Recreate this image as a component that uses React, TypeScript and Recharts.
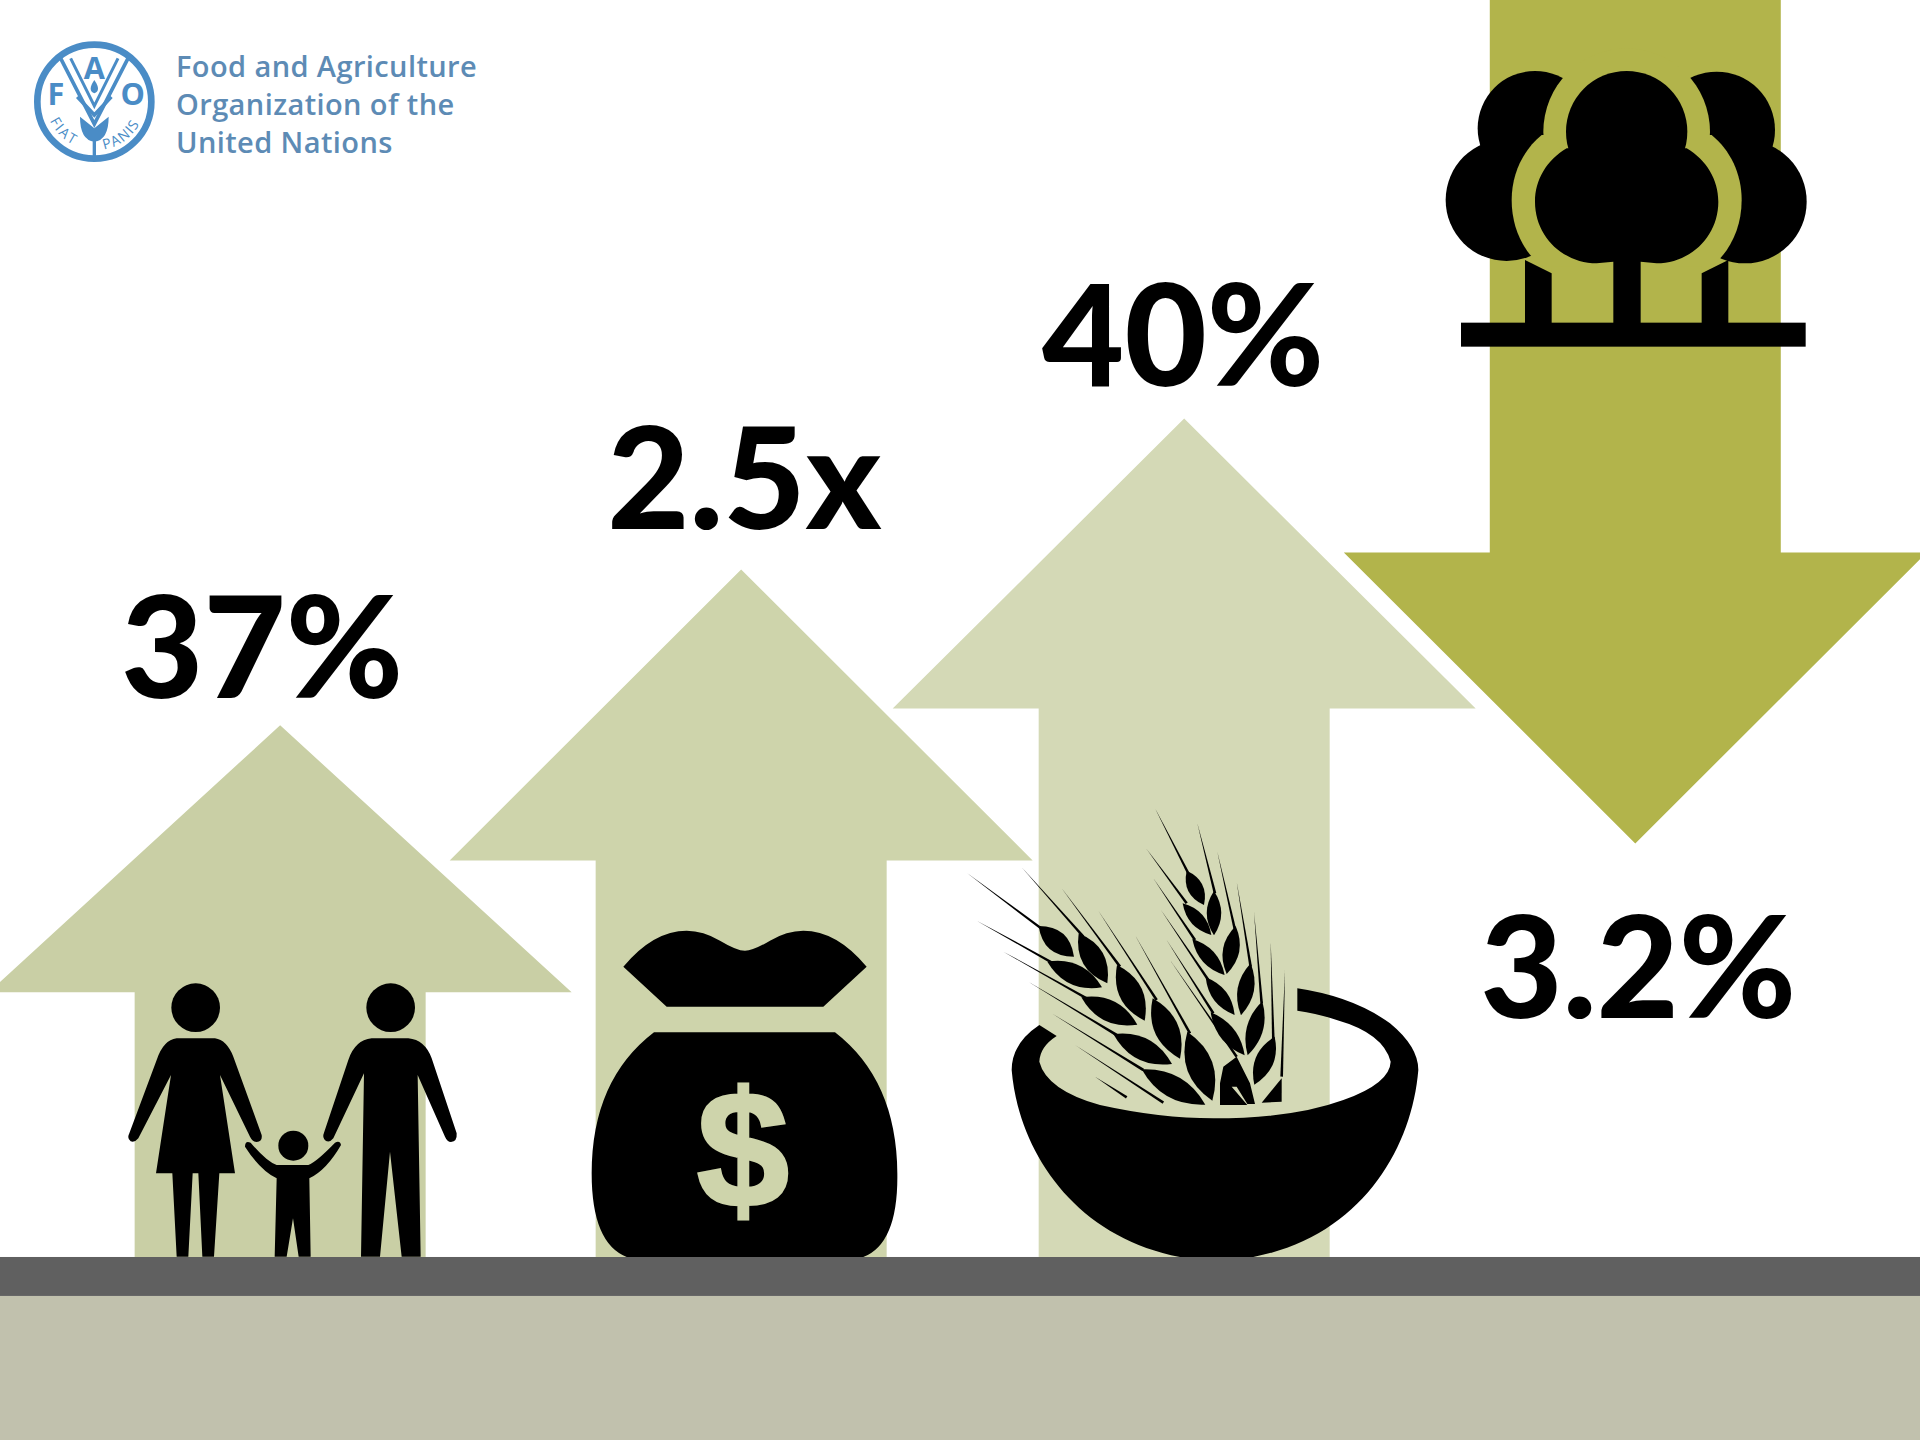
import { BarChart, Bar, XAxis, YAxis, ReferenceArea, LabelList } from 'recharts';

// values, in percent of the height above the ground line
const categories = ['People', 'Income', 'Food', 'Forest'];
const arrowLow = [0, 0, 0, 32.9];
const arrowHigh = [42.3, 54.7, 66.7, 100];
const valueLabels = ['37%', '2.5x', '40%', '3.2%'];

const chartData = categories.map((name, i) => ({
  name,
  range: [arrowLow[i], arrowHigh[i]],
  label: valueLabels[i],
}));

// styling, kept away from the values
const arrowFills = ['#c9cfa5', '#ced4ab', '#d4d9b6', '#b2b44b'];
const headHeights = [267, 291, 290, 291];
const centerNudge = [0, 9.3, 0.6, 0];
const labelDx = [-18, 3, -1, 3];
const labelDy = [-27, -40, -33, 175];
const HEAD_HALF = 291.5;
const LOGO_BLUE = '#4a8cc6';
const LOGO_TEXT = '#5d8bb5';

const awnPath = (x1: number, y1: number, x2: number, y2: number, w = 4) => {
  const len = Math.hypot(x2 - x1, y2 - y1);
  const nx = (-(y2 - y1) / len) * w;
  const ny = ((x2 - x1) / len) * w;
  return `M${x1} ${y1}L${x2 + nx} ${y2 + ny}L${x2 - nx} ${y2 - ny}Z`;
};

const grainPath = (x1: number, y1: number, x2: number, y2: number, w: number) => {
  const mx = (x1 + x2) / 2;
  const my = (y1 + y2) / 2;
  const len = Math.hypot(x2 - x1, y2 - y1);
  const nx = (-(y2 - y1) / len) * w * 1.45;
  const ny = ((x2 - x1) / len) * w * 1.45;
  return `M${x1} ${y1}Q${mx + nx} ${my + ny} ${x2} ${y2}Q${mx - nx} ${my - ny} ${x1} ${y1}Z`;
};

const grains = [
  [236, 408, 342, 500, 42], [356, 430, 442, 580, 46], [262, 515, 426, 592, 42],
  [471, 525, 554, 692, 48], [364, 622, 532, 704, 44], [578, 625, 660, 806, 50],
  [460, 732, 636, 822, 46], [682, 725, 757, 932, 54], [545, 838, 736, 944, 46],
  [680, 242, 732, 345, 32], [762, 303, 762, 436, 30], [668, 340, 754, 435, 28],
  [827, 408, 800, 552, 34], [697, 447, 794, 555, 30], [872, 520, 843, 676, 34],
  [737, 562, 824, 675, 30], [907, 634, 863, 796, 34], [752, 667, 854, 796, 32],
  [944, 740, 883, 884, 38],
];

const awns = [
  [20, 248, 250, 420], [185, 232, 370, 440], [305, 295, 480, 530], [415, 362, 590, 630],
  [525, 435, 690, 730], [50, 392, 280, 520], [130, 485, 380, 625], [205, 575, 470, 735],
  [275, 670, 550, 840], [345, 765, 610, 938], [405, 860, 500, 922],
  [585, 55, 690, 260], [712, 100, 765, 310], [772, 185, 825, 420], [830, 275, 872, 530],
  [882, 365, 905, 640], [932, 455, 940, 750], [975, 540, 965, 860], [558, 175, 680, 340],
  [580, 265, 705, 450], [603, 360, 745, 570], [620, 450, 760, 670], [630, 510, 830, 800],
];

const Family = () => (
  <g transform="translate(100 960) scale(0.33333)" fill="#000">
    <circle cx={287} cy={143} r={73} />
    <path d="M230 235L345 235Q380 240 400 290L485 525Q488 545 470 546Q458 546 450 530L360 345L405 640L358 640L342 890L307 890L295 640L278 640L265 890L230 890L217 640L168 640L213 345L115 535Q105 548 92 544Q80 535 88 520L170 300Q190 240 230 235Z" />
    <circle cx={872} cy={143} r={73} />
    <path d="M815 235L925 235Q975 240 995 295L1070 520Q1072 545 1053 546Q1042 546 1035 530L953 345L962 890L905 890L870 575L840 890L783 890L792 340L700 535Q690 548 678 543Q665 533 672 518L745 300Q765 240 815 235Z" />
    <circle cx={580} cy={557} r={45} />
    <path d="M530 615L625 615Q650 605 705 548Q720 540 723 555Q680 630 628 655L632 890L596 890L579 775L560 890L524 890L530 655Q480 630 435 560Q435 540 452 548Q500 605 530 615Z" />
  </g>
);

const MoneyBag = ({ fill }: { fill: string }) => (
  <g>
    <g transform="translate(570 910) scale(0.33333)" fill="#000">
      <path d="M160 170Q250 62 350 62Q400 62 450 92Q500 122 525 122Q550 122 600 92Q650 62 700 62Q800 62 890 170L760 290L290 290Z" />
      <path d="M252 367L795 367Q980 510 982 790Q985 1000 880 1041L170 1041Q65 1000 65 790Q65 510 252 367Z" />
    </g>
    <text x={743} y={1207} textAnchor="middle" fontFamily="Liberation Sans" fontWeight={700} fontSize={166} fill={fill} stroke={fill} strokeWidth={3}>$</text>
  </g>
);

const Bowl = () => (
  <g transform="translate(960 790) scale(0.33333)" fill="#000">
    <path d="M238 705L290 738Q240 770 238 815Q260 900 420 945Q600 985 760 985Q1000 985 1150 930Q1290 880 1292 815Q1270 730 1130 690Q1080 672 1012 662L1012 595Q1180 620 1290 700Q1375 770 1375 840C1355 1080 1200 1340 880 1401L660 1401C340 1340 175 1080 155 840Q155 760 238 705Z" />
    {awns.map((a, i) => <path key={i} d={awnPath(a[0], a[1], a[2], a[3])} />)}
    {grains.map((g, i) => <path key={i} d={grainPath(g[0], g[1], g[2], g[3], g[4])} />)}
    <path d="M780 945L780 880L790 830L830 800L870 880L885 942L862 942L830 890L815 890L862 945Z" />
    <path d="M905 938L965 865L965 935Z" />
  </g>
);

const Trees = ({ fill }: { fill: string }) => (
  <g transform="translate(1400 0) scale(0.33333)" fill="#000">
    <circle cx={405} cy={385} r={172} />
    <circle cx={320} cy={600} r={183} />
    <circle cx={950} cy={390} r={175} />
    <circle cx={1035} cy={605} r={185} />
    <circle cx={680} cy={395} r={250} fill={fill} />
    <path d="M425 405C370 450 335 520 335 600C335 700 385 780 455 820L905 820C975 780 1025 700 1025 600C1025 520 990 450 935 405Z" fill={fill} />
    <rect x={455} y={800} width={450} height={170} fill={fill} />
    <path d="M375 780L455 820L455 970L375 970Z" />
    <path d="M985 780L905 820L905 970L985 970Z" />
    <circle cx={680} cy={395} r={182} />
    <path d="M500 445C440 480 405 540 405 605C405 710 490 790 590 790L640 785L640 970L722 970L722 785L770 790C870 790 955 710 955 605C955 540 920 480 860 445Z" />
    <rect x={183} y={968} width={1034} height={72} />
  </g>
);

const icons = [
  () => <Family />,
  (fill: string) => <MoneyBag fill={fill} />,
  () => <Bowl />,
  (fill: string) => <Trees fill={fill} />,
];

// bar shape: a block arrow whose shaft is the bar, up or down by its position in the list
const ArrowShape = (props: any) => {
  const { x, y, width, height, index } = props;
  const fill = arrowFills[index];
  const cx = x + width / 2 + centerNudge[index];
  const left = cx - width / 2;
  const right = cx + width / 2;
  const head = headHeights[index];
  const bottom = y + height;
  const d = arrowLow[index] > 0
    ? `M${left} ${y}L${right} ${y}L${right} ${bottom - head}L${cx + HEAD_HALF} ${bottom - head}L${cx} ${bottom}L${cx - HEAD_HALF} ${bottom - head}L${left} ${bottom - head}Z`
    : `M${cx} ${y}L${cx + HEAD_HALF} ${y + head}L${right} ${y + head}L${right} ${bottom}L${left} ${bottom}L${left} ${y + head}L${cx - HEAD_HALF} ${y + head}Z`;
  return (
    <g>
      <path d={d} fill={fill} />
      {icons[index](fill)}
    </g>
  );
};

const ValueLabel = (props: any) => {
  const { x, y, width, height, value, index } = props;
  const anchor = arrowLow[index] > 0 ? y + height : y;
  return (
    <text
      x={x + width / 2 + centerNudge[index] + labelDx[index]}
      y={anchor + labelDy[index]}
      textAnchor="middle"
      fontFamily="Lato"
      fontWeight={900}
      fontSize={142}
      fill="#000"
    >
      {value}
    </text>
  );
};

// the ground runs the full page width, past the padded category range
const GroundBand = (fill: string) => (props: any) => (
  <rect x={0} y={props.y} width={1920} height={props.height} fill={fill} />
);

const Logo = () => (
  <g>
    <g transform="scale(0.33333)" fill={LOGO_BLUE}>
      <circle cx={283} cy={305} r={171} fill="none" stroke={LOGO_BLUE} strokeWidth={20} />
      <path d="M182 175L283 372L384 175" fill="none" stroke={LOGO_BLUE} strokeWidth={11} />
      <path d="M212 175L283 318L354 175" fill="none" stroke={LOGO_BLUE} strokeWidth={9} />
      <path d="M232 290L283 345L334 290" fill="none" stroke={LOGO_BLUE} strokeWidth={11} />
      <path d="M283 240Q305 272 283 280Q261 272 283 240Z" />
      <path d="M240 350L283 385L326 350Q326 420 283 425Q240 420 240 350Z" />
      <rect x={278} y={420} width={10} height={60} />
      <text x={168} y={316} textAnchor="middle" fontFamily="Open Sans" fontWeight={700} fontSize={92}>F</text>
      <text x={283} y={237} textAnchor="middle" fontFamily="Open Sans" fontWeight={700} fontSize={92}>A</text>
      <text x={398} y={316} textAnchor="middle" fontFamily="Open Sans" fontWeight={700} fontSize={92}>O</text>
      <path id="fiatArc" d="M150 362A150 150 0 0 0 262 448" fill="none" />
      <path id="panisArc" d="M312 448A150 150 0 0 0 432 335" fill="none" />
      <text fontFamily="Open Sans" fontSize={42} letterSpacing={6}>
        <textPath href="#fiatArc">FIAT</textPath>
      </text>
      <text fontFamily="Open Sans" fontSize={42} letterSpacing={4}>
        <textPath href="#panisArc">PANIS</textPath>
      </text>
    </g>
    <g fontFamily="Open Sans" fontWeight={600} fontSize={29} letterSpacing={0.4} fill={LOGO_TEXT}>
      <text x={176} y={77}>Food and Agriculture</text>
      <text x={176} y={115}>Organization of the</text>
      <text x={176} y={153}>United Nations</text>
    </g>
  </g>
);

export default function App() {
  return (
    <div style={{ position: 'absolute', left: 0, top: 0, width: 1920, height: 1440, overflow: 'hidden', background: '#fff' }}>
      <BarChart
        width={1920}
        height={1440}
        data={chartData}
        margin={{ top: 0, right: 0, bottom: 0, left: 0 }}
        barSize={291}
      >
        <XAxis dataKey="name" hide padding={{ left: 54.65, right: 58.5 }} />
        <YAxis hide domain={[-14.56, 100]} allowDataOverflow />
        <ReferenceArea y1={-14.56} y2={-3.1} shape={GroundBand('#c1c1ad')} />
        <ReferenceArea y1={-3.1} y2={0} shape={GroundBand('#606060')} />
        <Bar dataKey="range" isAnimationActive={false} shape={ArrowShape}>
          <LabelList dataKey="label" content={ValueLabel} />
        </Bar>
        <Logo />
      </BarChart>
    </div>
  );
}
